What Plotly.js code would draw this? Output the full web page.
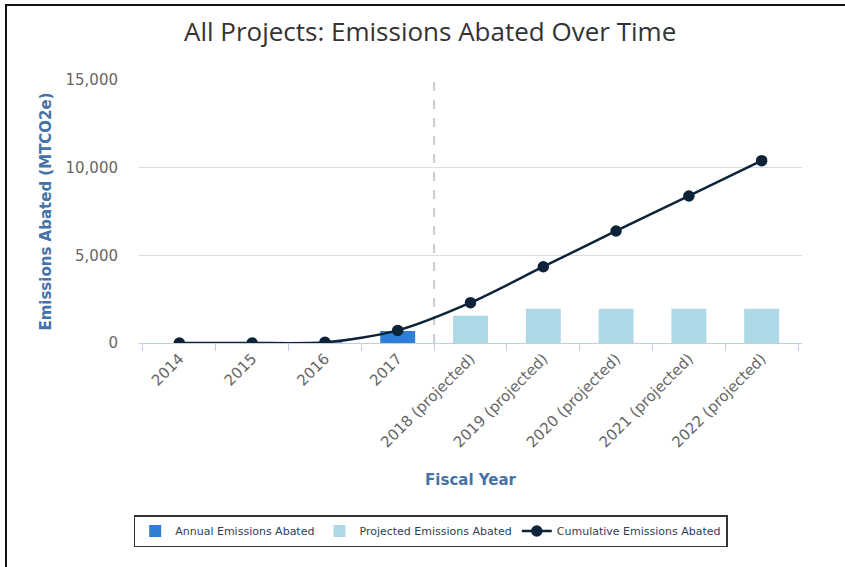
<!DOCTYPE html>
<html>
<head>
<meta charset="utf-8">
<script src="https://cdn.plot.ly/plotly-3.0.1.min.js"></script>
<style>
  html, body { margin: 0; padding: 0; background: #fff; }
  #wrap { position: relative; width: 845px; height: 567px; overflow: hidden; }
  #chart { position: absolute; left: 0; top: 0; width: 845px; height: 567px; }
  #frame { position: absolute; left: 5px; top: 4px; width: 845px; height: 570px;
           border-left: 2px solid #111; border-top: 2px solid #111; pointer-events: none; }
</style>
</head>
<body>
<div id="wrap">
  <div id="chart"></div>
  <div id="frame"></div>
</div>
<script>
// Fiscal years on the x axis
const fiscalYears = ['2014', '2015', '2016', '2017',
  '2018 (projected)', '2019 (projected)', '2020 (projected)',
  '2021 (projected)', '2022 (projected)'];

// Emissions abated per year (MTCO2e)
const annualAbated = [0, 0, 40, 680, null, null, null, null, null];
const projectedAbated = [null, null, null, null, 1550, 1950, 1950, 1950, 1950];

// Running total (MTCO2e)
const cumulativeAbated = [0, 0, 40, 720, 2300, 4350, 6390, 8385, 10400];

// First year that is a projection; the dashed divider sits just before it
const firstProjectedIndex = fiscalYears.findIndex(y => y.includes('projected'));

const tickFont = { family: 'DejaVu Sans, sans-serif', size: 15, color: '#666666' };
const axisTitleFont = { family: 'DejaVu Sans, sans-serif', size: 15, color: '#4572a7', weight: 'bold' };

const traces = [
  {
    type: 'bar', name: 'Annual Emissions Abated',
    x: fiscalYears, y: annualAbated,
    marker: { color: '#2f7ed8' }, width: 0.48,
    hoverinfo: 'x+y'
  },
  {
    type: 'bar', name: 'Projected Emissions Abated',
    x: fiscalYears, y: projectedAbated,
    marker: { color: '#add8e6' }, width: 0.48,
    hoverinfo: 'x+y'
  },
  {
    type: 'scatter', mode: 'lines+markers', name: 'Cumulative Emissions Abated',
    x: fiscalYears, y: cumulativeAbated,
    line: { color: '#0d233a', width: 2.5, shape: 'spline', smoothing: 0.8 },
    marker: { color: '#0d233a', size: 11.5 }
  }
];

const layout = {
  width: 845, height: 567,
  margin: { l: 139, r: 43, t: 80, b: 224 },
  paper_bgcolor: '#ffffff', plot_bgcolor: '#ffffff',
  barmode: 'overlay',
  showlegend: true,
  title: {
    text: 'All Projects: Emissions Abated Over Time',
    font: { family: 'Open Sans, sans-serif', size: 26, color: '#333333' },
    x: 0.509, xanchor: 'center', y: 0.944, yanchor: 'middle', yref: 'container'
  },
  xaxis: {
    type: 'category',
    tickangle: -45,
    tickfont: tickFont,
    ticks: 'outside', tickson: 'boundaries', ticklen: 7, tickcolor: '#c0d0e0', tickwidth: 1,
    showline: true, linecolor: '#c0d0e0', linewidth: 1,
    showgrid: false, zeroline: false,
    title: { text: 'Fiscal Year', font: axisTitleFont, standoff: 24 }
  },
  yaxis: {
    range: [0, 15000],
    tickvals: [0, 5000, 10000, 15000],
    ticktext: ['0', '5,000', '10,000', '15,000'],
    tickfont: tickFont,
    ticklabelstandoff: 20,
    ticks: '', showline: false,
    showgrid: true, gridcolor: '#dcdcdc', gridwidth: 1.5,
    zeroline: false,
    title: { text: 'Emissions Abated (MTCO2e)', font: axisTitleFont, standoff: 10 }
  },
  shapes: [
    {
      type: 'line', xref: 'x', yref: 'paper',
      x0: firstProjectedIndex - 0.5, x1: firstProjectedIndex - 0.5, y0: 0, y1: 1,
      line: { color: '#cccccc', width: 2, dash: 'dash' }, layer: 'below'
    }
  ],
  legend: {
    orientation: 'h',
    x: 0.44, xanchor: 'center',
    y: -0.715, yanchor: 'middle',
    font: { family: 'DejaVu Sans, sans-serif', size: 11, color: '#2e3e55' },
    bordercolor: '#333333', borderwidth: 1.5, bgcolor: '#ffffff',
    traceorder: 'normal'
  }
};

Plotly.newPlot('chart', traces, layout, { displayModeBar: false, staticPlot: true });
</script>
</body>
</html>
